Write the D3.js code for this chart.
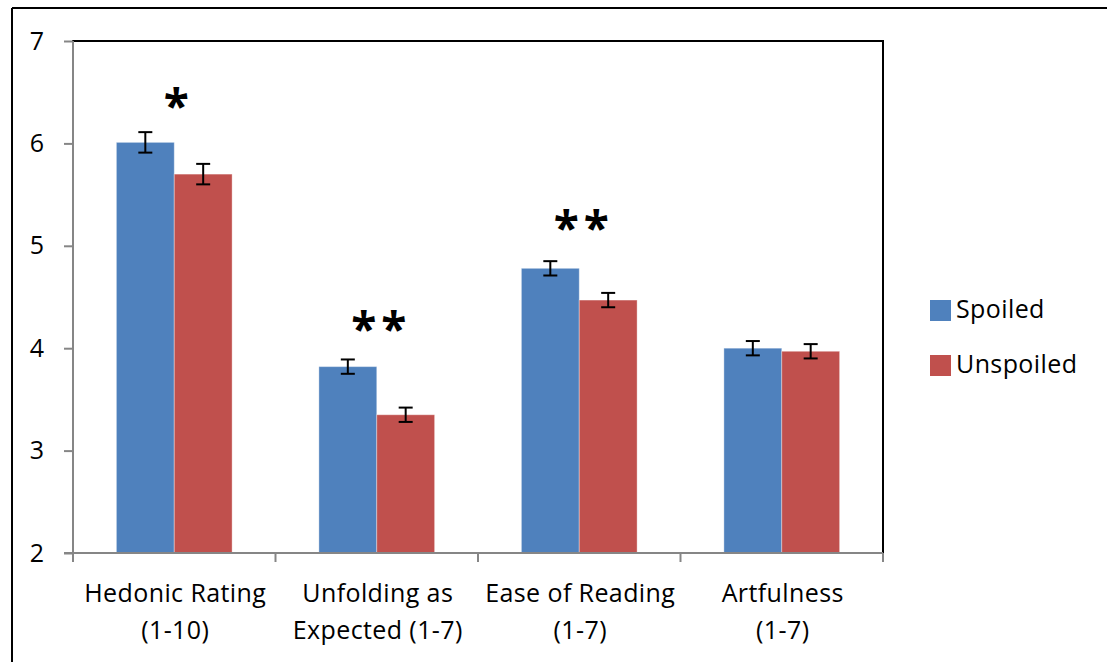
<!DOCTYPE html>
<html>
<head>
<meta charset="utf-8">
<script src="https://cdn.jsdelivr.net/npm/d3@7"></script>
<style>
  html, body { margin: 0; padding: 0; background: #fff; }
  svg { display: block; }
  text { font-family: "Open Sans", "Noto Sans", sans-serif; fill: #000; }
</style>
</head>
<body>
<script>
// ---- data ----
const categories = ["Hedonic Rating (1-10)", "Unfolding as Expected (1-7)", "Ease of Reading (1-7)", "Artfulness (1-7)"];
const categoryLine1 = ["Hedonic Rating", "Unfolding as", "Ease of Reading", "Artfulness"];
const categoryLine2 = ["(1-10)", "Expected (1-7)", "(1-7)", "(1-7)"];
const seriesNames = ["Spoiled", "Unspoiled"];
const spoiled = [6.01, 3.82, 4.78, 4.00];
const unspoiled = [5.70, 3.35, 4.47, 3.97];
const spoiledErr = [0.10, 0.07, 0.07, 0.07];
const unspoiledErr = [0.10, 0.07, 0.07, 0.07];
const significance = ["*", "**", "**", ""];
const significanceLevel = [6.42, 4.25, 5.23, null];
const yTicks = [2, 3, 4, 5, 6, 7];
const colors = ["#4F81BD", "#C0504D"];

// ---- layout ----
const W = 1107, H = 662;
const plot = { left: 73, right: 883, top: 41, bottom: 553 };
const labelFont = 25, labelSpacing = 0.4;

const svg = d3.select("body").append("svg").attr("width", W).attr("height", H);

// outer chart border (extends beyond right/bottom edges)
svg.append("line").attr("x1", 12).attr("x2", W + 5).attr("y1", 8).attr("y2", 8)
  .attr("stroke", "#000").attr("stroke-width", 2);
svg.append("line").attr("x1", 12).attr("x2", 12).attr("y1", 8).attr("y2", H + 5)
  .attr("stroke", "#000").attr("stroke-width", 2);

const y = d3.scaleLinear().domain([2, 7]).range([plot.bottom, plot.top]);
const x = d3.scaleBand().domain(categories).range([plot.left, plot.right]).paddingInner(0).paddingOuter(0);
const xs = d3.scaleBand().domain(seriesNames).range([0, x.bandwidth()]).paddingInner(0).paddingOuter(0.75);

// plot area border
svg.append("rect")
  .attr("x", plot.left).attr("y", plot.top)
  .attr("width", plot.right - plot.left).attr("height", plot.bottom - plot.top)
  .attr("fill", "none").attr("stroke", "#000").attr("stroke-width", 2);

// bars
const rows = categories.map((c, i) => [
  { cat: c, s: seriesNames[0], v: spoiled[i], e: spoiledErr[i], k: 0 },
  { cat: c, s: seriesNames[1], v: unspoiled[i], e: unspoiledErr[i], k: 1 }
]).flat();

svg.append("g").selectAll("rect").data(rows).join("rect")
  .attr("x", d => x(d.cat) + xs(d.s))
  .attr("y", d => y(d.v))
  .attr("width", xs.bandwidth())
  .attr("height", d => y(2) - y(d.v))
  .attr("fill", d => colors[d.k])
  .attr("stroke", "rgba(255,255,255,0.35)")
  .attr("stroke-width", 1);

// error bars
const eg = svg.append("g").attr("stroke", "#000").attr("stroke-width", 2);
rows.forEach(d => {
  const cx = x(d.cat) + xs(d.s) + xs.bandwidth() / 2;
  const y1 = y(d.v + d.e), y2 = y(d.v - d.e);
  eg.append("line").attr("x1", cx).attr("x2", cx).attr("y1", y1).attr("y2", y2);
  eg.append("line").attr("x1", cx - 7).attr("x2", cx + 7).attr("y1", y1).attr("y2", y1);
  eg.append("line").attr("x1", cx - 7).attr("x2", cx + 7).attr("y1", y2).attr("y2", y2);
});

// axes
const axisColor = "#868686";
const yAxis = svg.append("g").attr("transform", `translate(${plot.left},0)`)
  .call(d3.axisLeft(y).tickValues(yTicks).tickSize(9).tickPadding(20).tickFormat(d3.format("d")));
yAxis.select(".domain").attr("stroke", axisColor).attr("stroke-width", 2).attr("d", `M0,${plot.top}V${plot.bottom}`);
yAxis.selectAll(".tick line").attr("stroke", axisColor).attr("stroke-width", 2);
yAxis.selectAll(".tick text").attr("font-size", labelFont).attr("font-family", "Open Sans").attr("fill", "#000");

const xAxis = svg.append("g").attr("transform", `translate(0,${plot.bottom})`);
xAxis.append("line").attr("x1", plot.left - 9).attr("x2", plot.right).attr("y1", 0).attr("y2", 0)
  .attr("stroke", axisColor).attr("stroke-width", 2);
const boundaries = categories.map(c => x(c)).concat([x(categories[categories.length - 1]) + x.bandwidth()]);
xAxis.selectAll("line.tk").data(boundaries).join("line").attr("class", "tk")
  .attr("x1", d => d).attr("x2", d => d).attr("y1", 0).attr("y2", 9)
  .attr("stroke", axisColor).attr("stroke-width", 2);

// category labels
const lab = svg.append("g").attr("font-size", labelFont).attr("letter-spacing", labelSpacing).attr("text-anchor", "middle");
categories.forEach((c, i) => {
  const cx = x(c) + x.bandwidth() / 2 + 1;
  lab.append("text").attr("x", cx).attr("y", 602).text(categoryLine1[i]);
  lab.append("text").attr("x", cx).attr("y", 639).text(categoryLine2[i]);
});

// significance stars
const starFont = 46, starSpacing = 5;
categories.forEach((c, i) => {
  if (!significance[i]) return;
  svg.append("text")
    .attr("x", x(c) + x.bandwidth() / 2 + starSpacing / 2 + 2)
    .attr("y", y(significanceLevel[i]) + starFont * 0.5)
    .attr("text-anchor", "middle")
    .attr("font-size", starFont)
    .attr("font-family", "DejaVu Sans")
    .attr("font-weight", "bold")
    .attr("letter-spacing", starSpacing)
    .text(significance[i]);
});

// legend
const lg = svg.append("g");
seriesNames.forEach((s, i) => {
  const yy = 300 + i * 55;
  lg.append("rect").attr("x", 930).attr("y", yy).attr("width", 21).attr("height", 21).attr("fill", colors[i]);
  lg.append("text").attr("x", 956).attr("y", yy + 18).attr("font-size", labelFont).attr("letter-spacing", labelSpacing).text(s);
});
</script>
</body>
</html>
